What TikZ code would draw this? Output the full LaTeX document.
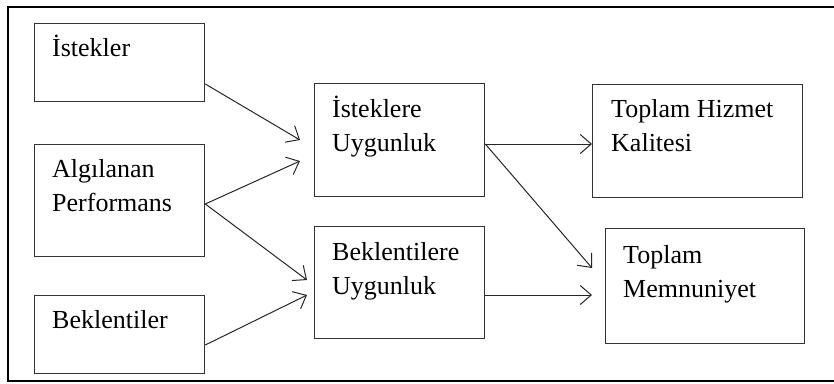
\documentclass[tikz,border=0pt]{standalone}
\usepackage{fontspec}
\setmainfont{Liberation Serif}
\usetikzlibrary{arrows.meta,calc}

\tikzset{
  stepbox/.style={draw=black!80, line width=1.3pt, inner sep=0pt, anchor=north west},
  lbl/.style={anchor=base west, inner sep=0pt, font=\fontsize{26}{34}\selectfont},
  link/.style={draw=black!85, line width=1pt,
    -{Straight Barb[length=11pt,width=19pt,line width=1pt]}},
}
\newcommand{\twolines}[2]{\begin{tabular}[t]{@{}l@{}}#1\\#2\end{tabular}}

\begin{document}
\begin{tikzpicture}[x=1pt,y=-1pt]
  \useasboundingbox (0,0) rectangle (834,383);

  % outer frame, open on the right
  \draw[line width=2.2pt] (834,7) -- (8,7) -- (8,381) -- (834,381);

  % boxes
  \node[stepbox, minimum width=170pt, minimum height=78pt]  (ist) at (34,23)  {};
  \node[stepbox, minimum width=170pt, minimum height=112pt] (alg) at (34,144) {};
  \node[stepbox, minimum width=170pt, minimum height=78pt]  (bek) at (34,295) {};
  \node[stepbox, minimum width=170pt, minimum height=113pt] (isu) at (314,83) {};
  \node[stepbox, minimum width=170pt, minimum height=112pt] (beu) at (314,226) {};
  \node[stepbox, minimum width=210pt, minimum height=113pt] (thk) at (592,84) {};
  \node[stepbox, minimum width=199pt, minimum height=115pt] (tm)  at (605,228) {};

  % labels
  \node[lbl] (ist-t) at ($(ist.north west)+(18,33)$) {İstekler};
  \node[lbl] (alg-t) at ($(alg.north west)+(18,33)$) {\twolines{Algılanan}{Performans}};
  \node[lbl] (bek-t) at ($(bek.north west)+(18,33)$) {Beklentiler};
  \node[lbl] (isu-t) at ($(isu.north west)+(18,34)$) {\twolines{İsteklere}{Uygunluk}};
  \node[lbl] (beu-t) at ($(beu.north west)+(18,34)$) {\twolines{Beklentilere}{Uygunluk}};
  \node[lbl] (thk-t) at ($(thk.north west)+(19,33)$) {\twolines{Toplam Hizmet}{Kalitesi}};
  \node[lbl] (tm-t)  at ($(tm.north west)+(18,35)$)  {\twolines{Toplam}{Memnuniyet}};

  % connectors
  \draw[link] ($(ist.north east)+(0,61)$) -- ($(isu.north west)+(-14,57)$);
  \draw[link] ($(alg.north east)+(0,60)$) -- ($(isu.north west)+(-14,78)$);
  \draw[link] ($(alg.north east)+(0,60)$) -- ($(beu.north west)+(-7,54)$);
  \draw[link] ($(bek.north east)+(0,50)$) -- ($(beu.north west)+(-7,69)$);
  \draw[link] ($(isu.north east)+(0,61)$) -- ($(thk.north west)+(0,60)$);
  \draw[link] ($(isu.north east)+(0,61)$) -- ($(tm.north west)+(-13,40)$);
  \draw[link] ($(beu.north east)+(0,69)$) -- ($(tm.north west)+(-13,67)$);
\end{tikzpicture}
\end{document}
